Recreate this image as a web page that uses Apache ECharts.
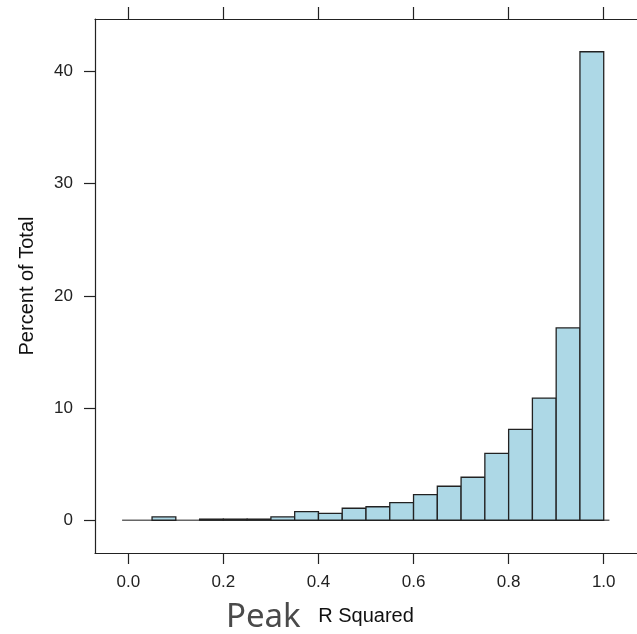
<!DOCTYPE html>
<html>
<head>
<meta charset="utf-8">
<script src="https://cdn.jsdelivr.net/npm/echarts@6/dist/echarts.min.js"></script>
<style>
html,body{margin:0;padding:0;background:#fff;}
#c{width:637px;height:634px;}
</style>
</head>
<body>
<div id="c"></div>
<script>
// Data
var binStarts = [0.00,0.05,0.10,0.15,0.20,0.25,0.30,0.35,0.40,0.45,0.50,0.55,0.60,0.65,0.70,0.75,0.80,0.85,0.90,0.95];
var binWidth = 0.05;
var percentOfTotal = [0, 0.3, 0, 0.1, 0.1, 0.1, 0.3, 0.77, 0.62, 1.07, 1.2, 1.57, 2.29, 3.03, 3.83, 5.96, 8.1, 10.89, 17.14, 41.75];
var xTicks = [0.0, 0.2, 0.4, 0.6, 0.8, 1.0];
var yTicks = [0, 10, 20, 30, 40];
var baselineX = [-0.013, 1.012];
var xTitle = "R Squared";
var yTitle = "Percent of Total";
var prefixTitle = "Peak";

var barData = binStarts.map(function (s, i) { return [s, s + binWidth, percentOfTotal[i]]; });
var baseData = baselineX.map(function (x) { return [x, 0]; });

var chart = echarts.init(document.getElementById('c'), null, {renderer: 'canvas'});
var axisLineStyle = {color: '#222', width: 1.2};
var labelFont = {fontFamily: 'Liberation Sans, Arial, sans-serif', fontSize: 17, color: '#222'};

chart.setOption({
  animation: false,
  backgroundColor: '#fff',
  title: {
    text: prefixTitle,
    left: 226, top: 601, padding: 0,
    textStyle: {fontFamily: 'Noto Sans, Open Sans, sans-serif', fontSize: 33, fontWeight: 'normal', color: '#4a4a4a'}
  },
  grid: {left: 95, top: 19, width: 551, height: 534, containLabel: false},
  xAxis: [{
    type: 'value', position: 'bottom', min: -0.07, max: 1.07,
    axisLine: {show: true, onZero: false, lineStyle: axisLineStyle},
    axisTick: {show: true, length: 11, lineStyle: axisLineStyle, customValues: xTicks},
    axisLabel: Object.assign({show: true, margin: 21, customValues: xTicks,
      formatter: function (v) { return Number(v).toFixed(1); }}, labelFont),
    splitLine: {show: false},
    name: xTitle, nameLocation: 'middle', nameGap: 53,
    nameTextStyle: {fontFamily: 'Liberation Sans, Arial, sans-serif', fontSize: 20, color: '#111'}
  }, {
    type: 'value', position: 'top', min: -0.07, max: 1.07,
    axisLine: {show: true, onZero: false, lineStyle: axisLineStyle},
    axisTick: {show: true, length: 12, lineStyle: axisLineStyle, customValues: xTicks},
    axisLabel: {show: false},
    splitLine: {show: false}
  }],
  yAxis: [{
    type: 'value', position: 'left', min: -2.92, max: 44.67,
    axisLine: {show: true, onZero: false, lineStyle: axisLineStyle},
    axisTick: {show: true, length: 11, lineStyle: axisLineStyle, customValues: yTicks},
    axisLabel: Object.assign({show: true, margin: 22, customValues: yTicks}, labelFont),
    splitLine: {show: false},
    name: yTitle, nameLocation: 'middle', nameGap: 58, nameRotate: 90,
    nameTextStyle: {fontFamily: 'Liberation Sans, Arial, sans-serif', fontSize: 20, color: '#111'}
  }],
  series: [{
    type: 'line', data: baseData, symbol: 'none', silent: true,
    lineStyle: {color: '#666', width: 1.5}, z: 1
  }, {
    type: 'custom', data: barData, z: 2,
    renderItem: function (params, api) {
      var x0 = api.value(0), x1 = api.value(1), v = api.value(2);
      if (!(v > 0)) return null;
      var p0 = api.coord([x0, v]);
      var p1 = api.coord([x1, 0]);
      return {
        type: 'rect',
        shape: {x: p0[0], y: p0[1], width: p1[0] - p0[0], height: p1[1] - p0[1]},
        style: {fill: '#ADD8E6', stroke: '#222', lineWidth: 1.3}
      };
    },
    encode: {x: [0, 1], y: 2}
  }]
});
</script>
</body>
</html>
